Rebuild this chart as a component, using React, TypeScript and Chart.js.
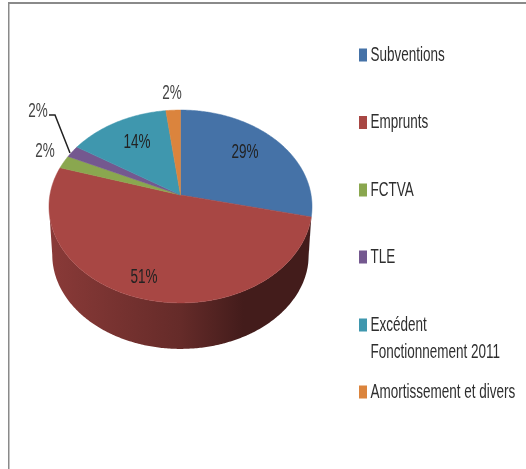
import React, { useEffect, useRef } from "react";
import { Chart, registerables } from "chart.js";

Chart.register(...registerables);

// ---- data ----
const categories = ["Subventions", "Emprunts", "FCTVA", "TLE", "Excédent Fonctionnement 2011", "Amortissement et divers"];
const legendLines = [["Subventions"], ["Emprunts"], ["FCTVA"], ["TLE"], ["Excédent", "Fonctionnement 2011"], ["Amortissement et divers"]];
const values = [28.6, 51.2, 2.2, 2, 14, 2];
const colors = ["#4572a7", "#a84744", "#8aa74f", "#74588f", "#3f97ae", "#db843d"];

// ---- layout and style ----
const W = 526;
const H = 469;
const PERSPECTIVE = -0.119;
const SQUASH_X = 0.993;
const SQUASH_Y = 0.723;
const WALL_SCALE = 0.975;
const WALL_DEPTH = 48.4;
const pctPositions = [[245, 152], [144, 277], [45, 151], [38, 111], [137, 142], [172, 93]];
const legendRowY = [55, 122.5, 190, 257, 325, 392];
const FONT = '20px "Liberation Sans Narrow", "Liberation Sans", sans-serif';
const TEXT_SCALE = 0.675;
const TEXT_COLOR = "#2e2e2e";

function shade(hex: string, f: number) {
  const n = parseInt(hex.slice(1), 16);
  const r = Math.round(((n >> 16) & 255) * f);
  const g = Math.round(((n >> 8) & 255) * f);
  const b = Math.round((n & 255) * f);
  return `rgb(${r},${g},${b})`;
}

function squeezedText(ctx: CanvasRenderingContext2D, text: string, x: number, y: number, align: CanvasTextAlign, color = TEXT_COLOR) {
  ctx.save();
  ctx.translate(x, y);
  ctx.scale(TEXT_SCALE, 1);
  ctx.font = FONT;
  ctx.textAlign = align;
  ctx.textBaseline = "middle";
  ctx.fillStyle = color;
  ctx.fillText(text, 0, 0);
  ctx.restore();
}

const pie3d = {
  id: "pie3d",
  beforeDatasetsDraw(chart: any) {
    const ctx: CanvasRenderingContext2D = chart.ctx;
    const meta = chart.getDatasetMeta(0);
    const arcs = meta.data;
    const cx = arcs[0].x;
    const cy = arcs[0].y;
    const R = arcs[0].outerRadius;

    const project = (a: number) => {
      const ux = Math.cos(a);
      const uy = Math.sin(a);
      const d = 1 + PERSPECTIVE * uy;
      return { x: cx + (R * SQUASH_X * ux) / d, y: cy + (R * SQUASH_Y * uy) / d };
    };
    const midY = (project(-Math.PI / 2).y + project(Math.PI / 2).y) / 2;
    const lower = (p: { x: number; y: number }) => ({
      x: cx + (p.x - cx) * WALL_SCALE,
      y: midY + (p.y - midY) * WALL_SCALE + WALL_DEPTH,
    });
    const left = cx - R;
    const right = cx + R;

    // side wall, front part only
    arcs.forEach((arc: any, i: number) => {
      const n = Math.max(4, Math.ceil((arc.endAngle - arc.startAngle) * 90));
      const pts: { x: number; y: number }[] = [];
      for (let k = 0; k <= n; k++) {
        const p = project(arc.startAngle + ((arc.endAngle - arc.startAngle) * k) / n);
        if (p.y >= midY) pts.push(p);
      }
      if (pts.length < 2) return;
      const g = ctx.createLinearGradient(left, 0, right, 0);
      g.addColorStop(0, shade(colors[i], 0.82));
      g.addColorStop(0.5, shade(colors[i], 0.6));
      g.addColorStop(0.74, shade(colors[i], 0.4));
      g.addColorStop(1, shade(colors[i], 0.4));
      ctx.beginPath();
      pts.forEach((p, k) => (k ? ctx.lineTo(p.x, p.y) : ctx.moveTo(p.x, p.y)));
      pts.slice().reverse().forEach((p) => {
        const q = lower(p);
        ctx.lineTo(q.x, q.y);
      });
      ctx.closePath();
      ctx.fillStyle = g;
      ctx.fill();
    });

    // top faces
    arcs.forEach((arc: any) => {
      const n = Math.max(4, Math.ceil((arc.endAngle - arc.startAngle) * 90));
      ctx.beginPath();
      ctx.moveTo(cx, cy);
      for (let k = 0; k <= n; k++) {
        const p = project(arc.startAngle + ((arc.endAngle - arc.startAngle) * k) / n);
        ctx.lineTo(p.x, p.y);
      }
      ctx.closePath();
      ctx.fillStyle = arc.options.backgroundColor;
      ctx.strokeStyle = arc.options.backgroundColor;
      ctx.lineWidth = 0.5;
      ctx.fill();
      ctx.stroke();
    });
    return false;
  },
  afterDraw(chart: any) {
    const ctx: CanvasRenderingContext2D = chart.ctx;

    // chart frame
    ctx.fillStyle = "#8a8a8a";
    ctx.fillRect(8, 2, W - 8, 2);
    ctx.fillRect(8, 2, 1.5, H - 2);

    // percentage labels
    const total = values.reduce((s, v) => s + v, 0);
    values.forEach((v, i) => {
      const [x, y] = pctPositions[i];
      squeezedText(ctx, `${Math.round((v / total) * 100)}%`, x, y, "center", i === 2 || i === 3 || i === 5 ? "#444444" : "#222222");
    });

    // leader line of the TLE label
    ctx.beginPath();
    ctx.moveTo(49, 115);
    ctx.lineTo(55, 115);
    ctx.lineTo(70, 153);
    ctx.strokeStyle = "#222222";
    ctx.lineWidth = 1.5;
    ctx.stroke();

    // legend
    categories.forEach((_, i) => {
      const y = legendRowY[i];
      ctx.fillStyle = colors[i];
      ctx.fillRect(359, y - 6.5, 8, 13);
      legendLines[i].forEach((line, j) => {
        squeezedText(ctx, line, 370.5, y + j * 27, "left");
      });
    });
  },
};

export default function App() {
  const ref = useRef<HTMLCanvasElement>(null);
  useEffect(() => {
    if (!ref.current) return;
    const chart = new Chart(ref.current, {
      type: "pie",
      data: {
        labels: categories,
        datasets: [{ data: values, backgroundColor: colors, borderWidth: 0 }],
      },
      options: {
        responsive: false,
        animation: false,
        layout: { padding: { left: 49, right: 214, top: 63.5, bottom: 142.5 } },
        plugins: { legend: { display: false }, tooltip: { enabled: false } },
      },
      plugins: [pie3d],
    } as any);
    return () => chart.destroy();
  }, []);
  return (
    <div style={{ position: "absolute", left: 0, top: 0, width: W, height: H, background: "#fff", overflow: "hidden" }}>
      <canvas ref={ref} width={W} height={H} style={{ display: "block", filter: "blur(0.45px)" }} />
    </div>
  );
}
